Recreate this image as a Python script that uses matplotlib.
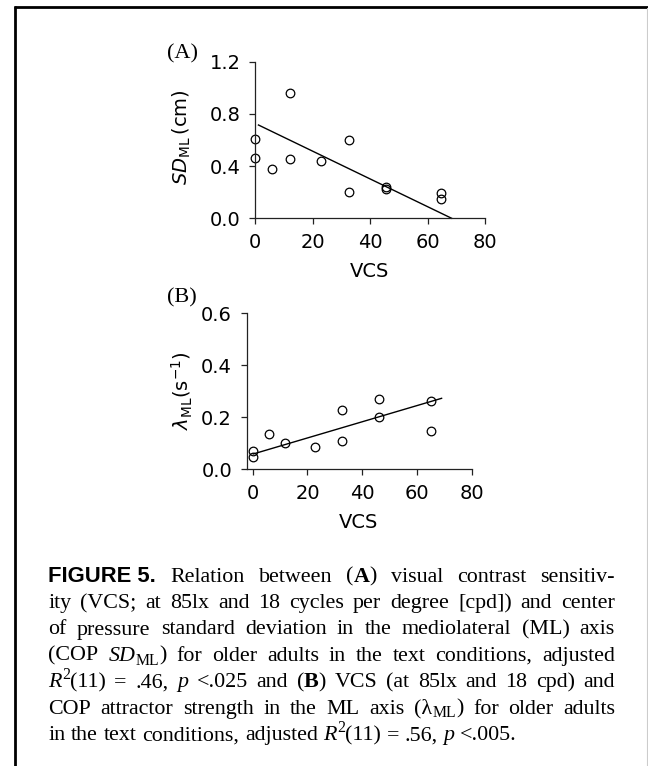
import matplotlib
matplotlib.use("Agg")
import matplotlib.pyplot as plt
from matplotlib.ticker import FormatStrFormatter
from matplotlib.lines import Line2D

# ---------------- data ----------------
vcs_a = [0, 0, 5.8, 12.2, 12.2, 23, 32.7, 32.7, 45.6, 45.6, 64.6, 64.6]
sd_ml = [0.605, 0.46, 0.378, 0.958, 0.452, 0.437, 0.60, 0.20, 0.242, 0.225, 0.196, 0.146]
fit_a_x = [1.2, 68.4]
fit_a_y = [0.715, 0.0]

vcs_b = [0, 0, 6.0, 11.7, 22.6, 32.7, 32.7, 46, 46, 65.1, 65.1]
lam_ml = [0.072, 0.048, 0.135, 0.102, 0.087, 0.228, 0.11, 0.269, 0.20, 0.264, 0.147]
fit_b_x = [0.2, 69]
fit_b_y = [0.059, 0.273]

x_ticks = [0, 20, 40, 60, 80]
y_ticks_a = [0.0, 0.4, 0.8, 1.2]
y_ticks_b = [0.0, 0.2, 0.4, 0.6]

# caption: lines of words; each word is a list of (text, style) segments
# styles: r=roman, b=bold, i=italic, sub=subscript, sup=superscript, fig=bold sans
caption_lines = [
    [[("FIGURE 5.", "fig")], [("Relation", "r")], [("between", "r")],
     [("(", "r"), ("A", "b"), (")", "r")], [("visual", "r")], [("contrast", "r")],
     [("sensitiv-", "r")]],
    [[("ity", "r")], [("(VCS;", "r")], [("at", "r")], [("85lx", "r")], [("and", "r")],
     [("18", "r")], [("cycles", "r")], [("per", "r")], [("degree", "r")], [("[cpd])", "r")],
     [("and", "r")], [("center", "r")]],
    [[("of", "r")], [("pressure", "r")], [("standard", "r")], [("deviation", "r")],
     [("in", "r")], [("the", "r")], [("mediolateral", "r")], [("(ML)", "r")], [("axis", "r")]],
    [[("(COP", "r")], [("SD", "i"), ("ML", "sub"), (")", "r")], [("for", "r")], [("older", "r")],
     [("adults", "r")], [("in", "r")], [("the", "r")], [("text", "r")], [("conditions,", "r")],
     [("adjusted", "r")]],
    [[("R", "i"), ("2", "sup"), ("(11)", "r")], [("=", "r")], [(".46,", "r")], [("p", "i")],
     [("<.025", "r")], [("and", "r")], [("(", "r"), ("B", "b"), (")", "r")], [("VCS", "r")],
     [("(at", "r")], [("85lx", "r")], [("and", "r")], [("18", "r")], [("cpd)", "r")],
     [("and", "r")]],
    [[("COP", "r")], [("attractor", "r")], [("strength", "r")], [("in", "r")], [("the", "r")],
     [("ML", "r")], [("axis", "r")], [("(λ", "r"), ("ML", "sub"), (")", "r")], [("for", "r")],
     [("older", "r")], [("adults", "r")]],
    [[("in", "r")], [("the", "r")], [("text", "r")], [("conditions,", "r")], [("adjusted", "r")],
     [("R", "i"), ("2", "sup"), ("(11)", "r")], [("=", "r")], [(".56,", "r")], [("p", "i")],
     [("<.005.", "r")]],
]

# ---------------- figure ----------------
W, H = 648, 766
DPI = 100
fig = plt.figure(figsize=(W / DPI, H / DPI), dpi=DPI)
fig.patch.set_facecolor("white")


def fx(px):
    return px / W


def fy(py):
    return 1 - py / H


TICK_FS = 14
SANS = "DejaVu Sans"


def style_axes(ax):
    for s in ["top", "right"]:
        ax.spines[s].set_visible(False)
    for s in ["left", "bottom"]:
        ax.spines[s].set_linewidth(0.9)
        ax.spines[s].set_color("#222222")
    ax.tick_params(direction="out", length=4.5, width=0.9, colors="#222222",
                   labelsize=TICK_FS, pad=6, labelcolor="black")
    for lab in ax.get_xticklabels() + ax.get_yticklabels():
        lab.set_family(SANS)
    ax.set_facecolor("none")


# Panel A
axA = fig.add_axes([fx(255), fy(218.3), (485 - 255) / W, (218.3 - 61.7) / H])
axA.plot(vcs_a, sd_ml, linestyle="none", marker="o", markersize=6.2,
         markerfacecolor="none", markeredgecolor="black", markeredgewidth=0.9, clip_on=False)
axA.plot(fit_a_x, fit_a_y, color="black", linewidth=1.0, clip_on=False)
axA.set_xlim(0, 80)
axA.set_ylim(0, 1.2)
axA.set_xticks(x_ticks)
axA.set_yticks(y_ticks_a)
axA.yaxis.set_major_formatter(FormatStrFormatter("%.1f"))
style_axes(axA)

# Panel B
axB = fig.add_axes([fx(246.7), fy(469.3), (471.7 - 246.7) / W, (469.3 - 313.3) / H])
axB.plot(vcs_b, lam_ml, linestyle="none", marker="o", markersize=6.2,
         markerfacecolor="none", markeredgecolor="black", markeredgewidth=0.9, clip_on=False)
axB.plot(fit_b_x, fit_b_y, color="black", linewidth=1.0, clip_on=False)
axB.set_xlim(-2.2, 80)
axB.set_ylim(0, 0.6)
axB.set_xticks(x_ticks)
axB.set_yticks(y_ticks_b)
axB.yaxis.set_major_formatter(FormatStrFormatter("%.1f"))
style_axes(axB)

# axis labels
fig.text(fx(370), fy(276.7), "VCS", ha="center", va="baseline", fontsize=TICK_FS, family=SANS)
fig.text(fx(359), fy(527.7), "VCS", ha="center", va="baseline", fontsize=TICK_FS, family=SANS)
fig.text(fx(182), fy(137.5), r"$\mathit{SD}_{\mathrm{ML}}\,$(cm)", rotation=90, ha="center",
         va="center", fontsize=TICK_FS, family=SANS, math_fontfamily="dejavusans")
fig.text(fx(182), fy(390.5), r"$\lambda_{\mathrm{ML}}$(s$^{\mathregular{-1}}$)", rotation=90,
         ha="center", va="center", fontsize=TICK_FS, family=SANS, math_fontfamily="dejavusans")

# panel letters
fig.text(fx(167), fy(58), "(A)", ha="left", va="baseline", fontsize=16,
         family="Liberation Serif")
fig.text(fx(167), fy(302), "(B)", ha="left", va="baseline", fontsize=16,
         family="Liberation Serif")

# frame lines
fig.add_artist(Line2D([fx(14.5), fx(14.5)], [fy(6), fy(766)], color="black", linewidth=2.0,
                      transform=fig.transFigure, solid_capstyle="butt"))
fig.add_artist(Line2D([fx(13.5), fx(648)], [fy(7.2), fy(7.2)], color="black", linewidth=2.0,
                      transform=fig.transFigure, solid_capstyle="butt"))
fig.add_artist(Line2D([fx(647.3), fx(647.3)], [fy(8), fy(766)], color="#cccccc", linewidth=0.8,
                      transform=fig.transFigure))

# caption, justified
CAP_FS = 15.8
CAP_PX = CAP_FS * DPI / 72
L_PX, R_PX = 48.3, 615
base0, lead = 581.7, 26.4
renderer = fig.canvas.get_renderer()


def make_seg(s, style):
    kw = dict(ha="left", va="baseline", family="Liberation Serif", fontsize=CAP_FS)
    dy = 0.0
    if style == "fig":
        kw.update(family="Liberation Sans", weight="bold", fontsize=15.8)
    elif style == "b":
        kw.update(weight="bold")
    elif style == "i":
        kw.update(style="italic")
    elif style == "sub":
        kw.update(fontsize=CAP_FS * 0.72)
        dy = 0.17 * CAP_PX
    elif style == "sup":
        kw.update(fontsize=CAP_FS * 0.72)
        dy = -0.38 * CAP_PX
    t = fig.text(0, 0, s, **kw)
    return t, dy


for i, words in enumerate(caption_lines):
    built = []
    for w in words:
        segs = [make_seg(s, st) for s, st in w]
        wid = [t.get_window_extent(renderer).width for t, _ in segs]
        built.append((segs, wid, sum(wid)))
    total = sum(b[2] for b in built)
    justify = i < len(caption_lines) - 1
    if justify:
        gap = (R_PX - L_PX - total) / (len(built) - 1)
    else:
        gap = 0.26 * CAP_PX
    x = L_PX
    y = base0 + lead * i
    for segs, wid, tw in built:
        xx = x
        for (t, dy), w in zip(segs, wid):
            t.set_position((fx(xx), fy(y + dy)))
            xx += w
        x += tw + gap

fig.savefig("out.png", dpi=DPI, facecolor="white")
